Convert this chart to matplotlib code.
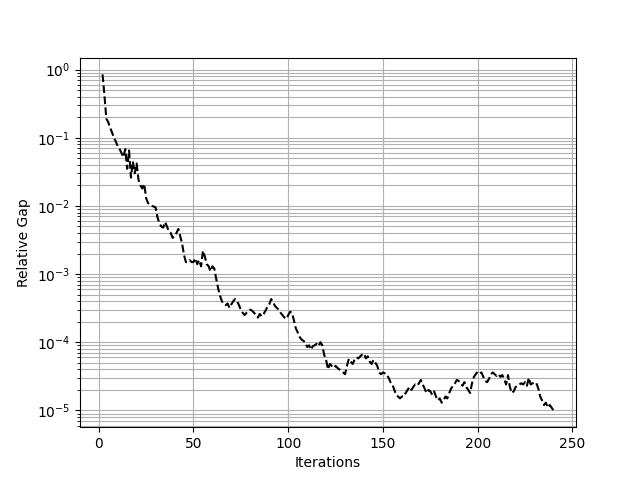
import numpy as np
import matplotlib
matplotlib.use('Agg')
import matplotlib.pyplot as plt

# relative gap per iteration, iterations 2..240
gap_2_31 = [0.85, 0.42, 0.19, 0.17, 0.14, 0.12, 0.10, 0.088, 0.075, 0.068,
            0.060, 0.052, 0.068, 0.035, 0.065, 0.026, 0.045, 0.030, 0.042, 0.024,
            0.020, 0.018, 0.021, 0.013, 0.011, 0.0105, 0.010, 0.0098, 0.0095, 0.0068]
gap_32_61 = [0.0056, 0.0050, 0.0048, 0.0058, 0.0050, 0.0042, 0.0040, 0.0034, 0.0036, 0.0040,
             0.0046, 0.0036, 0.0028, 0.0019, 0.0015, 0.0015, 0.0016, 0.0015, 0.0015, 0.0017,
             0.0014, 0.0016, 0.0013, 0.0022, 0.0018, 0.0014, 0.0013, 0.0011, 0.0013, 0.0012]
gap_62_91 = [8.5e-4, 6.2e-4, 4.8e-4, 4.0e-4, 3.6e-4, 3.5e-4, 3.7e-4, 3.2e-4, 3.6e-4, 4.0e-4,
             4.3e-4, 4.0e-4, 3.5e-4, 3.0e-4, 2.7e-4, 2.5e-4, 2.7e-4, 2.8e-4, 3.0e-4, 2.9e-4,
             2.7e-4, 2.5e-4, 2.3e-4, 2.6e-4, 2.4e-4, 2.6e-4, 2.9e-4, 3.3e-4, 3.6e-4, 4.3e-4]
gap_92_121 = [3.9e-4, 3.4e-4, 3.2e-4, 3.0e-4, 2.7e-4, 2.5e-4, 2.3e-4, 2.2e-4, 2.5e-4, 2.8e-4,
              2.7e-4, 2.1e-4, 1.6e-4, 1.4e-4, 1.2e-4, 1.1e-4, 1.05e-4, 1.0e-4, 8.5e-5, 9.0e-5,
              7.8e-5, 8.8e-5, 9.0e-5, 9.5e-5, 8.8e-5, 1.0e-4, 9.0e-5, 6.5e-5, 5.5e-5, 4.0e-5]
gap_122_151 = [4.8e-5, 4.5e-5, 4.2e-5, 4.5e-5, 4.2e-5, 4.0e-5, 3.8e-5, 3.6e-5, 3.4e-5, 4.5e-5,
               5.7e-5, 5.2e-5, 4.8e-5, 5.5e-5, 6.0e-5, 5.8e-5, 6.2e-5, 6.6e-5, 6.8e-5, 5.8e-5,
               6.2e-5, 5.2e-5, 4.8e-5, 5.5e-5, 5.0e-5, 4.5e-5, 3.6e-5, 3.4e-5, 3.6e-5, 3.5e-5]
gap_152_181 = [3.4e-5, 3.0e-5, 2.6e-5, 2.4e-5, 2.0e-5, 1.7e-5, 1.6e-5, 1.5e-5, 1.6e-5, 1.6e-5,
               1.8e-5, 2.0e-5, 2.2e-5, 2.0e-5, 2.2e-5, 2.4e-5, 2.3e-5, 2.5e-5, 2.8e-5, 2.4e-5,
               2.1e-5, 1.8e-5, 2.0e-5, 1.9e-5, 1.7e-5, 1.9e-5, 1.6e-5, 1.4e-5, 1.5e-5, 1.3e-5]
gap_182_211 = [1.4e-5, 1.6e-5, 1.5e-5, 1.8e-5, 2.1e-5, 2.3e-5, 2.5e-5, 2.8e-5, 2.7e-5, 2.5e-5,
               2.3e-5, 2.6e-5, 2.2e-5, 2.0e-5, 1.8e-5, 2.5e-5, 3.1e-5, 3.4e-5, 3.7e-5, 3.5e-5,
               3.6e-5, 3.1e-5, 2.7e-5, 2.6e-5, 2.9e-5, 3.4e-5, 3.6e-5, 3.4e-5, 3.2e-5, 3.4e-5]
gap_212_240 = [3.1e-5, 3.3e-5, 2.9e-5, 2.4e-5, 3.3e-5, 2.2e-5, 1.8e-5, 1.9e-5, 2.2e-5, 2.3e-5,
               2.4e-5, 2.5e-5, 2.4e-5, 2.6e-5, 2.3e-5, 3.0e-5, 2.4e-5, 2.5e-5, 2.6e-5, 2.5e-5,
               2.1e-5, 1.6e-5, 1.4e-5, 1.2e-5, 1.3e-5, 1.1e-5, 1.2e-5, 1.1e-5, 1.0e-5]

gap = (gap_2_31 + gap_32_61 + gap_62_91 + gap_92_121 + gap_122_151
       + gap_152_181 + gap_182_211 + gap_212_240)
iterations = np.arange(2, 2 + len(gap))

plt.figure(figsize=(6.4, 4.8), dpi=100)
plt.semilogy(iterations, gap, 'k--')
plt.grid(True, which='both')
plt.xlabel('Iterations')
plt.ylabel('Relative Gap')
plt.savefig('out.png')
